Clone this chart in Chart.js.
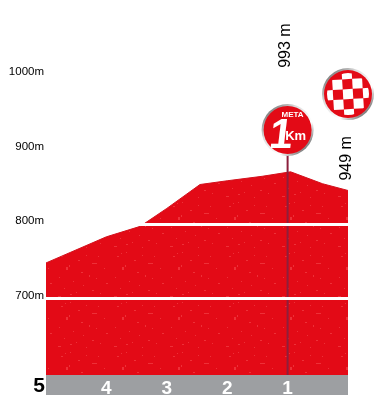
<!DOCTYPE html>
<html>
<head>
  <meta charset="utf-8">
  <title>Profile last 5 km</title>
  <script src="https://cdn.jsdelivr.net/npm/chart.js"></script>
  <style>
    html, body { margin: 0; padding: 0; background: #fff; }
    canvas { display: block; }
  </style>
</head>
<body>
  <canvas id="profile" width="378" height="400"></canvas>

  <script>
    // Km to go and height in metres
    const profileKm = [5, 4, 3.44, 3, 2.45, 2, 1.42, 0.95, 0.42, 0];
    const profileElev = [748, 783, 797, 821, 853, 858, 864, 870, 854, 845];

    const yTicks = [700, 800, 900, 1000];
    const kmTicks = [4, 3, 2, 1];
    const startKm = 5;

    // 1 km banner pole
    const poleKm = [1, 1];
    const poleElev = [598, 893];

    // Badges and rotated height notes, placed in data units
    const badgeKm = [1, 0];
    const badgeElev = [926, 974];
    const noteText = ['993 m', '949 m'];
    const noteKm = [1.04, 0.02];
    const noteElev = [1039, 888];

    // Speckled red fill, repeats every 56 x 50 px
    const speckles = [
      [5, 6, 2, 1], [9, 3, 1, 1], [14, 2, 1, 1], [22, 10, 2, 1], [30, 5, 1, 1], [42, 6, 1, 1],
      [36, 13, 5, 1], [10, 17, 2, 3], [13, 15, 1, 2], [48, 18, 1, 1], [25, 22, 2, 1], [33, 25, 1, 2],
      [40, 28, 1, 1], [3, 27, 1, 1], [17, 31, 1, 1], [50, 33, 2, 1], [27, 35, 1, 1], [8, 38, 1, 1],
      [36, 40, 2, 1], [44, 43, 1, 1], [14, 44, 2, 1], [20, 42, 1, 1], [2, 46, 3, 1], [30, 47, 1, 1]
    ];

    function redPattern(ctx) {
      const tile = document.createElement('canvas');
      tile.width = 56;
      tile.height = 50;
      const t = tile.getContext('2d');
      t.fillStyle = '#e30a16';
      t.fillRect(0, 0, 56, 50);
      t.fillStyle = '#ee3038';
      speckles.forEach(function(s) {
        t.fillRect(s[0], s[1], s[2], s[3]);
      });
      return ctx.createPattern(tile, 'repeat');
    }

    function drawRing(ctx, x, y) {
      const ring = ctx.createLinearGradient(x - 20, y - 20, x + 20, y + 20);
      ring.addColorStop(0, '#777777');
      ring.addColorStop(0.3, '#dddddd');
      ring.addColorStop(0.7, '#ffffff');
      ring.addColorStop(1, '#666666');
      ctx.fillStyle = ring;
      ctx.beginPath();
      ctx.arc(x, y, 26, 0, Math.PI * 2);
      ctx.fill();
      ctx.fillStyle = '#e30a16';
      ctx.beginPath();
      ctx.arc(x, y, 24, 0, Math.PI * 2);
      ctx.fill();
    }

    function drawMetaBadge(ctx, x, y) {
      drawRing(ctx, x, y);
      ctx.fillStyle = '#fff';
      ctx.textBaseline = 'alphabetic';
      ctx.textAlign = 'center';
      ctx.font = 'bold 8px "Liberation Sans Narrow", "Liberation Sans"';
      ctx.fillText('META', x + 5, y - 13);
      // upright bold with a small slant, the italic 1 leans too far
      ctx.save();
      ctx.translate(x - 8, y + 18);
      ctx.transform(1, 0, -0.12, 1, 0, 0);
      ctx.font = 'bold 42px "Liberation Sans"';
      ctx.fillText('1', 0, 0);
      ctx.restore();
      ctx.font = 'bold 13px "Liberation Sans Narrow", "Liberation Sans"';
      ctx.fillText('Km', x + 8, y + 10);
    }

    function drawFinishBadge(ctx, x, y) {
      drawRing(ctx, x, y);
      const cell = 10;
      ctx.save();
      ctx.beginPath();
      ctx.arc(x, y, 21, 0, Math.PI * 2);
      ctx.clip();
      ctx.translate(x, y);
      ctx.rotate(-0.06);
      ctx.fillStyle = '#fff';
      for (let i = -2; i <= 2; i++) {
        for (let j = -2; j <= 2; j++) {
          if ((i + j + 4) % 2 === 0) {
            ctx.fillRect(i * cell - cell / 2, j * cell - cell / 2, cell, cell);
          }
        }
      }
      ctx.restore();
    }

    const profileDecor = {
      id: 'profileDecor',
      beforeDraw: function(chart) {
        // grey km band below the plot
        const ctx = chart.ctx;
        const x = chart.scales.x;
        const area = chart.chartArea;
        ctx.save();
        ctx.fillStyle = '#9d9fa2';
        ctx.fillRect(x.left, area.bottom, x.right - x.left, 20);
        ctx.restore();
      },
      afterDraw: function(chart) {
        const ctx = chart.ctx;
        const x = chart.scales.x;
        const y = chart.scales.y;
        ctx.save();

        drawMetaBadge(ctx, x.getPixelForValue(badgeKm[0]), y.getPixelForValue(badgeElev[0]));
        drawFinishBadge(ctx, x.getPixelForValue(badgeKm[1]), y.getPixelForValue(badgeElev[1]));

        // rotated height notes
        ctx.fillStyle = '#000';
        ctx.font = '16px "Liberation Sans"';
        ctx.textAlign = 'center';
        ctx.textBaseline = 'middle';
        noteText.forEach(function(txt, i) {
          ctx.save();
          ctx.translate(x.getPixelForValue(noteKm[i]), y.getPixelForValue(noteElev[i]));
          ctx.rotate(-Math.PI / 2);
          ctx.fillText(txt, 0, 0);
          ctx.restore();
        });

        // the 5 sits left of the band, black and bigger than the others
        ctx.font = 'bold 21px "Liberation Sans"';
        ctx.textAlign = 'right';
        ctx.fillText(String(startKm), x.getPixelForValue(startKm) - 1, chart.chartArea.bottom + 11);
        ctx.restore();
      }
    };

    const ctxProfile = document.getElementById('profile').getContext('2d');
    const profileChart = new Chart(ctxProfile, {
      type: 'line',
      data: {
        datasets: [
          {
            label: 'Pole',
            data: poleKm.map(function(km, i) { return { x: km, y: poleElev[i] }; }),
            borderColor: '#8c1f3c',
            borderWidth: 2,
            pointRadius: 0,
            fill: false,
            order: 0
          },
          {
            label: 'Profile',
            data: profileKm.map(function(km, i) { return { x: km, y: profileElev[i] }; }),
            borderColor: '#d3101c',
            borderWidth: 1,
            backgroundColor: redPattern(ctxProfile),
            pointRadius: 0,
            tension: 0,
            fill: 'start',
            order: 1
          }
        ]
      },
      options: {
        responsive: false,
        animation: false,
        layout: { padding: { right: 30 } },
        plugins: {
          legend: { display: false },
          tooltip: { enabled: false }
        },
        scales: {
          x: {
            type: 'linear',
            reverse: true,
            min: 0,
            max: 5,
            afterBuildTicks: function(axis) {
              axis.ticks = kmTicks.map(function(v) { return { value: v }; });
            },
            afterFit: function(axis) { axis.height = 25; },
            grid: { display: false, drawTicks: false },
            border: { display: false },
            ticks: {
              autoSkip: false,
              maxRotation: 0,
              padding: 2,
              color: '#fff',
              font: { family: '"Liberation Sans"', size: 19, weight: 'bold' }
            }
          },
          y: {
            min: 598,
            max: 1100,
            afterBuildTicks: function(axis) {
              axis.ticks = yTicks.map(function(v) { return { value: v }; });
            },
            afterFit: function(axis) {
              axis.width = 46;
              axis.paddingTop = 0;
              axis.paddingBottom = 0;
            },
            grid: { color: '#fff', lineWidth: 3, drawTicks: false, z: 1 },
            border: { display: false },
            ticks: {
              padding: 2,
              labelOffset: -3,
              color: '#000',
              font: { family: '"Liberation Sans"', size: 11.5 },
              callback: function(v) { return v + 'm'; }
            }
          }
        }
      },
      plugins: [profileDecor]
    });
  </script>
</body>
</html>
